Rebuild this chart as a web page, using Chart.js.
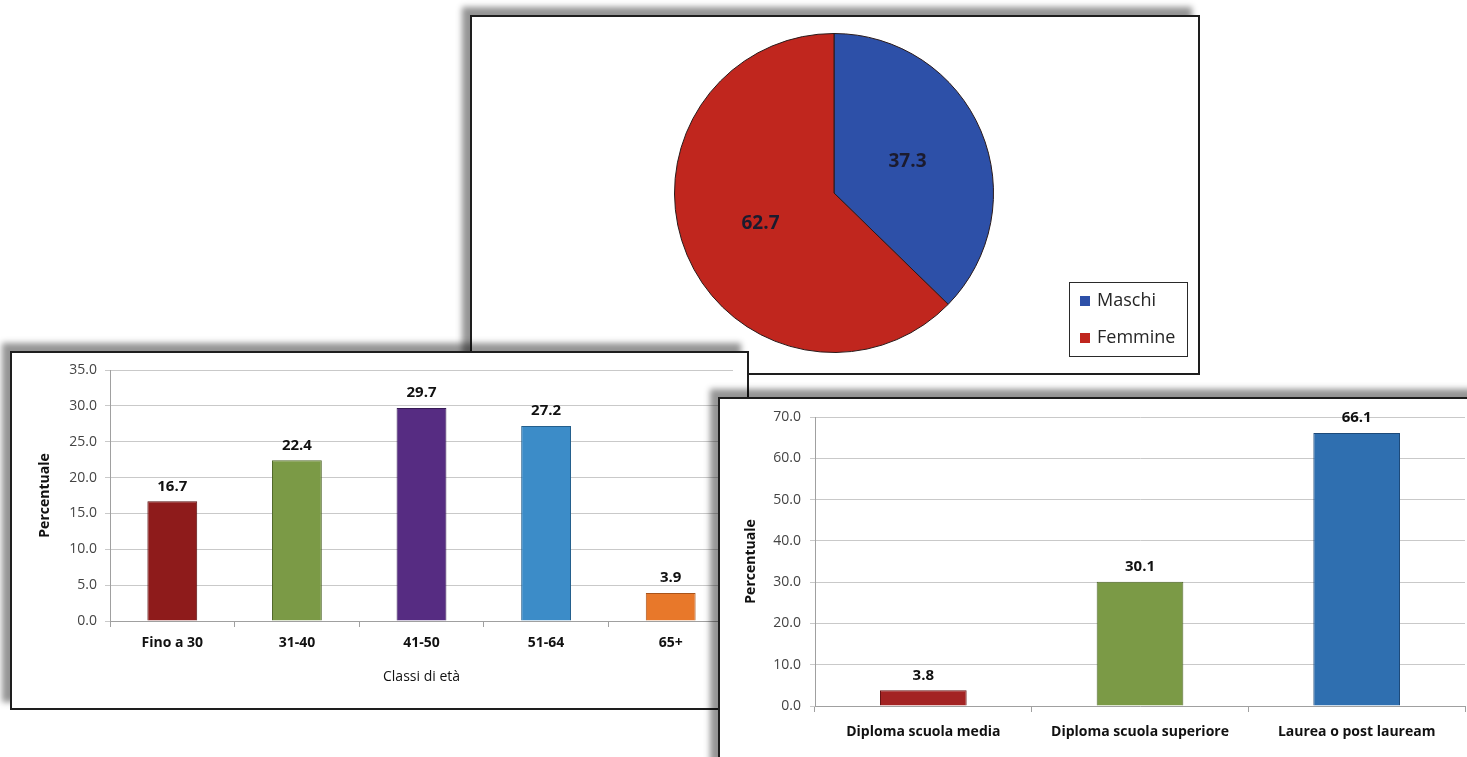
<!DOCTYPE html>
<html>
<head>
<meta charset="utf-8">
<script src="https://cdn.jsdelivr.net/npm/chart.js@4"></script>
<style>
  body { margin: 0; width: 1467px; height: 757px; overflow: hidden; background: #fff; position: relative; }
  .box { position: absolute; background: #fff; border: 2px solid #1e1e1e; box-shadow: -8px -8px 6px rgba(0,0,0,0.42); }
  .box canvas { display: block; }
</style>
</head>
<body>
<div class="box" style="left:470px;top:15px;width:726px;height:356px"><canvas id="pie" width="726" height="356"></canvas></div>
<div class="box" style="left:10px;top:351px;width:735px;height:355px"><canvas id="age" width="735" height="355"></canvas></div>
<div class="box" style="left:718px;top:397px;width:786px;height:396px"><canvas id="edu" width="786" height="396"></canvas></div>
<script>
const sexLabels = ['Maschi', 'Femmine'];
const sexValues = [37.3, 62.7];
const sexColors = ['#2d50a8', '#c0261e'];

const ageLabels = ['Fino a 30', '31-40', '41-50', '51-64', '65+'];
const ageValues = [16.7, 22.4, 29.7, 27.2, 3.9];
const ageColors = ['#8e1b1b', '#7b9a46', '#562c82', '#3c8cc8', '#e8782a'];
const ageBorders = ['#5a0f0f', '#51682c', '#351a55', '#245f8c', '#a9531a'];

const eduLabels = ['Diploma scuola media', 'Diploma scuola superiore', 'Laurea o post lauream'];
const eduValues = [3.8, 30.1, 66.1];
const eduColors = ['#a32323', '#7b9a46', '#2f6fb0'];
const eduBorders = ['#661313', '#51682c', '#1d4a7a'];

const FONT = '"Open Sans", "Noto Sans", sans-serif';

// value labels above bars / inside slices
const valueLabels = {
  id: 'valueLabels',
  afterDatasetsDraw(chart, args, opts) {
    const ctx = chart.ctx;
    const meta = chart.getDatasetMeta(0);
    ctx.save();
    ctx.font = opts.font;
    ctx.fillStyle = opts.color;
    ctx.textAlign = 'center';
    ctx.textBaseline = 'middle';
    meta.data.forEach((el, i) => {
      const p = el.tooltipPosition();
      const v = chart.data.datasets[0].data[i];
      ctx.fillText(v.toFixed(1), p.x, p.y - (opts.offset || 0));
    });
    ctx.restore();
  }
};

// legend in a framed box, like the original
const boxLegend = {
  id: 'boxLegend',
  afterDraw(chart, args, o) {
    const ctx = chart.ctx;
    ctx.save();
    ctx.strokeStyle = '#2a2a2a';
    ctx.lineWidth = 1;
    ctx.strokeRect(o.x + 0.5, o.y + 0.5, o.w, o.h);
    ctx.font = o.font;
    ctx.textBaseline = 'middle';
    chart.data.labels.forEach((lab, i) => {
      const cy = o.y + o.first + i * o.gap;
      ctx.fillStyle = chart.data.datasets[0].backgroundColor[i];
      ctx.fillRect(o.x + o.markX, cy - 5, 10, 10);
      ctx.fillStyle = '#262626';
      ctx.fillText(lab, o.x + o.textX, cy);
    });
    ctx.restore();
  }
};

new Chart(document.getElementById('pie'), {
  type: 'pie',
  data: {
    labels: sexLabels,
    datasets: [{ data: sexValues, backgroundColor: sexColors, borderColor: '#2a1a1a', borderWidth: 1 }]
  },
  options: {
    responsive: false,
    animation: false,
    layout: { padding: { left: 202, right: 204, top: 16, bottom: 20 } },
    plugins: {
      legend: { display: false },
      tooltip: { enabled: false },
      valueLabels: { font: 'bold 19px ' + FONT, color: '#1b1b2e' },
      boxLegend: { x: 597, y: 265, w: 118, h: 74, first: 19, gap: 37, markX: 11, textX: 28, font: '18px ' + FONT }
    }
  },
  plugins: [valueLabels, boxLegend]
});

function barOptions(cfg) {
  return {
    responsive: false,
    animation: false,
    layout: { padding: { left: 0, right: cfg.padRight, top: cfg.padTop, bottom: 0 } },
    plugins: {
      legend: { display: false },
      tooltip: { enabled: false },
      valueLabels: { font: 'bold 15px ' + FONT, color: '#111', offset: 15 }
    },
    scales: {
      x: {
        grid: { drawOnChartArea: false, tickLength: 6, color: '#a0a0a0' },
        border: { color: '#a0a0a0' },
        ticks: { padding: cfg.xPad, color: '#111', font: { family: FONT, size: 14, weight: 'bold' } },
        title: cfg.xTitle
          ? { display: true, text: cfg.xTitle, color: '#111', font: { family: FONT, size: 14 }, padding: { top: 0, bottom: 23 } }
          : { display: false },
        afterFit(s) { s.height = cfg.xHeight; }
      },
      y: {
        min: 0,
        max: cfg.max,
        ticks: { stepSize: cfg.step, padding: cfg.yPad, color: '#444', font: { family: FONT, size: 14 }, callback: v => v.toFixed(1) },
        grid: { color: '#c9c9c9', tickLength: 5 },
        border: { color: '#a0a0a0' },
        title: { display: true, text: 'Percentuale', color: '#111', font: { family: FONT, size: 14, weight: 'bold' }, padding: { top: cfg.titlePad, bottom: 0 } },
        afterFit(s) { s.width = cfg.yWidth; }
      }
    }
  };
}

new Chart(document.getElementById('age'), {
  type: 'bar',
  data: {
    labels: ageLabels,
    datasets: [{ data: ageValues, backgroundColor: ageColors, borderColor: ageBorders, borderWidth: 1, barPercentage: 0.4, categoryPercentage: 1 }]
  },
  options: barOptions({ padRight: 14, padTop: 17, xPad: 8, xTitle: 'Classi di età', xHeight: 87, max: 35, step: 5, yPad: 8, titlePad: 25, yWidth: 98 }),
  plugins: [valueLabels]
});

new Chart(document.getElementById('edu'), {
  type: 'bar',
  data: {
    labels: eduLabels,
    datasets: [{ data: eduValues, backgroundColor: eduColors, borderColor: eduBorders, borderWidth: 1, barPercentage: 0.4, categoryPercentage: 1 }]
  },
  options: barOptions({ padRight: 41, padTop: 18, xPad: 12, xTitle: null, xHeight: 89, max: 70, step: 10, yPad: 9, titlePad: 23, yWidth: 95 }),
  plugins: [valueLabels]
});
</script>
</body>
</html>
